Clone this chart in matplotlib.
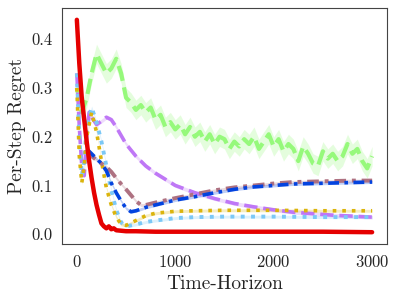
import numpy as np
import matplotlib
matplotlib.use("Agg")
import matplotlib.pyplot as plt
import seaborn as sns

sns.set_style("white")
plt.rcParams["font.family"] = ["cmr10", "DejaVu Serif"]
plt.rcParams["mathtext.fontset"] = "cm"
plt.rcParams["axes.unicode_minus"] = False
plt.rcParams["axes.formatter.use_mathtext"] = True

# --- data ---
t_green = list(range(0, 3001, 50))
v_green = [0.30, 0.25, 0.28, 0.33, 0.37, 0.35, 0.33, 0.34, 0.36, 0.33,
           0.28, 0.27, 0.255, 0.265, 0.25, 0.26, 0.235, 0.245, 0.22, 0.23,
           0.215, 0.225, 0.205, 0.22, 0.20, 0.21, 0.19, 0.205, 0.185, 0.20,
           0.195, 0.175, 0.19, 0.18, 0.195, 0.185, 0.20, 0.175, 0.19, 0.205,
           0.18, 0.195, 0.17, 0.185, 0.175, 0.15, 0.18, 0.165, 0.145, 0.14,
           0.17, 0.155, 0.165, 0.15, 0.16, 0.185, 0.165, 0.175, 0.15, 0.135,
           0.16]

t_purple = [0, 25, 50, 75, 100, 125, 150, 200, 250, 300, 350, 400, 500, 600,
            700, 800, 1000, 1200, 1400, 1600, 1800, 2000, 2200, 2400, 2600,
            2800, 3000]
v_purple = [0.33, 0.22, 0.14, 0.12, 0.20, 0.25, 0.24, 0.225, 0.232, 0.24,
            0.235, 0.22, 0.185, 0.16, 0.14, 0.125, 0.10, 0.085, 0.073, 0.063,
            0.056, 0.05, 0.045, 0.042, 0.039, 0.037, 0.035]

t_lblue = [0, 25, 50, 75, 100, 150, 200, 250, 300, 350, 400, 450, 500, 600,
           700, 800, 1000, 1200, 1500, 2000, 2500, 3000]
v_lblue = [0.33, 0.20, 0.12, 0.15, 0.22, 0.26, 0.23, 0.19, 0.14, 0.09, 0.05,
           0.024, 0.016, 0.02, 0.025, 0.028, 0.033, 0.035, 0.036, 0.036,
           0.035, 0.035]

t_yellow = [0, 25, 50, 75, 100, 150, 200, 250, 300, 350, 400, 450, 500, 600,
            700, 800, 1000, 1200, 1500, 2000, 2500, 3000]
v_yellow = [0.30, 0.16, 0.105, 0.14, 0.20, 0.25, 0.21, 0.15, 0.095, 0.06,
            0.035, 0.02, 0.018, 0.028, 0.038, 0.043, 0.047, 0.048, 0.049,
            0.049, 0.048, 0.048]

t_blue = [100, 150, 200, 250, 300, 350, 400, 450, 500, 550, 600, 700, 800,
          1000, 1200, 1400, 1600, 1800, 2000, 2200, 2400, 2600, 2800, 3000]
v_blue = [0.175, 0.165, 0.155, 0.145, 0.13, 0.105, 0.085, 0.068, 0.053, 0.046,
          0.048, 0.055, 0.06, 0.07, 0.077, 0.085, 0.092, 0.097, 0.10, 0.103,
          0.104, 0.105, 0.106, 0.107]

t_mauve = [100, 150, 200, 250, 300, 350, 400, 450, 500, 550, 600, 650, 700,
           800, 1000, 1200, 1400, 1600, 1800, 2000, 2200, 2400, 2600, 2800,
           3000]
v_mauve = [0.17, 0.16, 0.152, 0.145, 0.138, 0.128, 0.115, 0.103, 0.092, 0.08,
           0.068, 0.06, 0.06, 0.065, 0.074, 0.082, 0.09, 0.096, 0.10, 0.104,
           0.107, 0.108, 0.109, 0.11, 0.11]

t_red = [0, 25, 50, 75, 100, 125, 150, 175, 200, 225, 250, 275, 300, 325,
         350, 375, 400, 450, 500, 600, 800, 1000, 1500, 2000, 2500, 3000]
v_red = [0.44, 0.35, 0.28, 0.235, 0.19, 0.15, 0.115, 0.085, 0.06, 0.04,
         0.022, 0.016, 0.012, 0.016, 0.01, 0.012, 0.008, 0.007, 0.006, 0.006,
         0.005, 0.005, 0.005, 0.005, 0.005, 0.004]

dashdot = (0, (3, 1.5, 1, 1.5))
series = [
    (t_green, v_green, "#96f97b", "--", 3.0, 0.02),
    (t_purple, v_purple, "#bf77f6", "--", 2.6, 0.004),
    (t_lblue, v_lblue, "#7bc8f6", ":", 2.8, 0.003),
    (t_yellow, v_yellow, "#dbb40c", ":", 2.6, 0.003),
    (t_mauve, v_mauve, "#ae7181", dashdot, 2.8, 0.003),
    (t_blue, v_blue, "#0343df", dashdot, 2.6, 0.003),
    (t_red, v_red, "#e50000", "-", 3.2, 0.002),
]

fig = plt.figure(figsize=(3.98, 3.0), dpi=100)
ax = fig.add_axes([0.156, 0.187, 0.816, 0.786])

for t, v, c, ls, lw, band in series:
    t = np.array(t)
    v = np.array(v)
    ax.fill_between(t, v - band, v + band, color=c, alpha=0.25, lw=0)
    ax.plot(t, v, color=c, linestyle=ls, linewidth=lw)

ax.set_xticks([0, 1000, 2000, 3000])
ax.set_yticks([0.0, 0.1, 0.2, 0.3, 0.4])
ax.set_yticklabels(["0.0", "0.1", "0.2", "0.3", "0.4"])
ax.tick_params(labelsize=12)
ax.set_xlabel("Time-Horizon", fontsize=14)
ax.set_ylabel("Per-Step Regret", fontsize=14)
for s in ax.spines.values():
    s.set_color("#444444")

fig.savefig("out.png", dpi=100)
